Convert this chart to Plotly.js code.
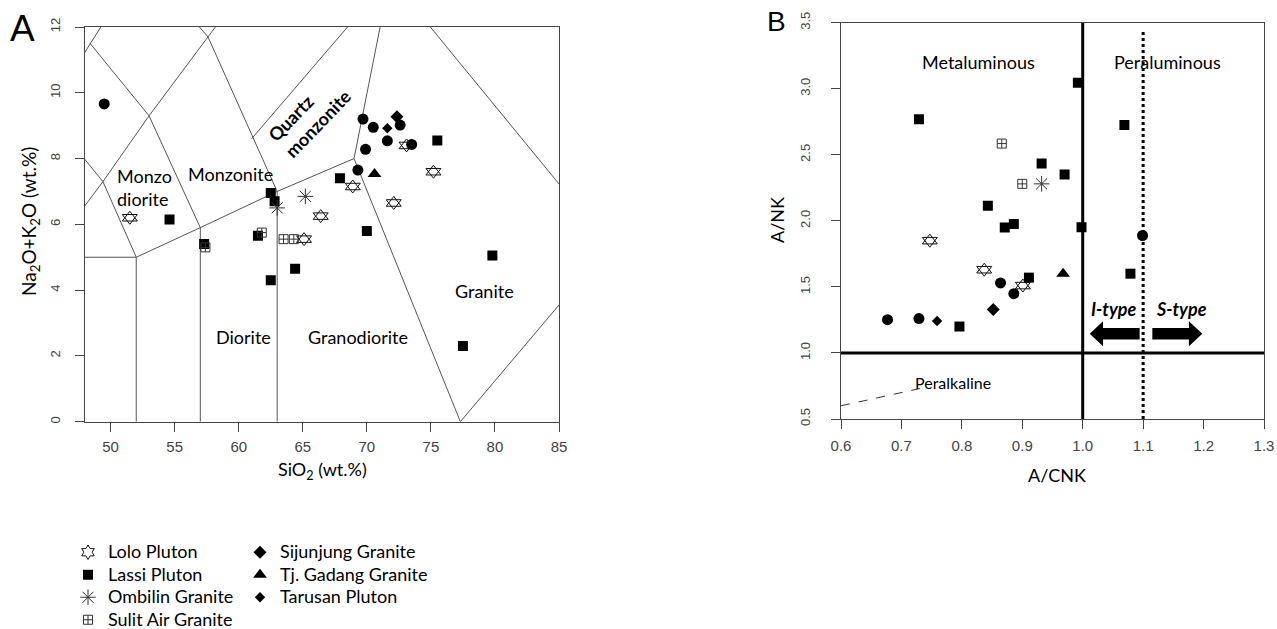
<!DOCTYPE html>
<html>
<head>
<meta charset="utf-8">
<script src="https://cdn.plot.ly/plotly-3.0.1.min.js"></script>
<style>html,body{margin:0;padding:0;background:#fff;}#chart{width:1277px;height:629px;}</style>
</head>
<body>
<div id="chart"></div>
<script>
// ---------- Panel A: TAS (SiO2 vs Na2O+K2O) ----------
const loloA_x = [51.5, 65.1, 66.4, 68.9, 72.1, 73.1, 75.2];
const loloA_y = [6.2, 5.55, 6.25, 7.15, 6.65, 8.4, 7.6];
const lassiA_x = [54.6, 57.3, 61.5, 62.5, 62.8, 62.5, 64.4, 67.9, 70.0, 75.5, 77.5, 79.8];
const lassiA_y = [6.15, 5.4, 5.65, 6.95, 6.7, 4.3, 4.65, 7.4, 5.8, 8.55, 2.3, 5.05];
const ombilinA_x = [63.0, 65.2];
const ombilinA_y = [6.5, 6.85];
const sulitA_x = [57.4, 61.8, 63.5, 64.3];
const sulitA_y = [5.3, 5.75, 5.55, 5.55];
const sijunjungA_x = [72.35];
const sijunjungA_y = [9.27];
const gadangA_x = [70.6];
const gadangA_y = [7.53];
const tarusanA_x = [71.6];
const tarusanA_y = [8.92];
const circleA_x = [49.5, 69.3, 69.7, 69.9, 70.5, 71.6, 72.6, 73.5];
const circleA_y = [9.66, 7.65, 9.2, 8.28, 8.95, 8.54, 9.02, 8.43];

// TAS field boundaries (Middlemost 1994, plutonic)
const tasLines = [
  [[45, 49.4, 53, 57.6, 59.0], [5, 7.3, 9.3, 11.7, 12.43]],
  [[45, 49.4, 52, 52], [9.4, 7.3, 5, 0]],
  [[40, 52, 57, 63, 69, 77.3], [5, 5, 5.9, 7, 8, 0]],
  [[57, 57, 53, 48.4], [0, 5.9, 9.3, 11.5]],
  [[63, 63, 57.6, 52.5], [0, 7, 11.7, 14]],
  [[45, 48.4, 52.5], [9.4, 11.5, 14]],
  [[61, 71.8], [8.6, 13.5]],
  [[69, 71.8, 85.9], [8, 13.5, 6.8]],
  [[77.3, 87.5], [0, 4.7]]
];

// ---------- Panel B: A/CNK vs A/NK ----------
const loloB_x = [0.747, 0.837, 0.901];
const loloB_y = [1.85, 1.63, 1.51];
const lassiB_x = [0.729, 0.796, 0.843, 0.871, 0.886, 0.911, 0.932, 0.970, 0.992, 0.998, 1.069, 1.079];
const lassiB_y = [2.77, 1.20, 2.115, 1.95, 1.977, 1.57, 2.435, 2.35, 3.046, 1.951, 2.726, 1.60];
const ombilinB_x = [0.932];
const ombilinB_y = [2.28];
const sulitB_x = [0.866, 0.900];
const sulitB_y = [2.585, 2.28];
const sijunjungB_x = [0.852];
const sijunjungB_y = [1.328];
const gadangB_x = [0.9675];
const gadangB_y = [1.60];
const tarusanB_x = [0.759];
const tarusanB_y = [1.242];
const circleB_x = [0.677, 0.729, 0.864, 0.886, 1.099];
const circleB_y = [1.252, 1.26, 1.53, 1.449, 1.889];

const seriesNames = ["Lolo Pluton", "Lassi Pluton", "Ombilin Granite", "Sulit Air Granite",
                     "Sijunjung Granite", "Tj. Gadang Granite", "Tarusan Pluton"];

// ---------- helpers ----------
const W = 1277, H = 629;
const px = v => v / W, py = v => 1 - v / H;
const legName = n => '<span style="font-size:18px">' + n + '</span>';

const styles = {
  "Lolo Pluton":        {symbol: "hexagram-open", size: 11, color: "#111", line: {width: 1, color: "#111"}},
  "Lassi Pluton":       {symbol: "square", size: 10, color: "#000"},
  "Ombilin Granite":    {symbol: "asterisk-open", size: 13, color: "#333", line: {width: 1, color: "#333"}},
  "Sulit Air Granite":  {symbol: "square-cross-open", size: 9, color: "#333", line: {width: 1, color: "#333"}},
  "Sijunjung Granite":  {symbol: "diamond", size: 10, color: "#000"},
  "Tj. Gadang Granite": {symbol: "triangle-up", size: 12, color: "#000"},
  "Tarusan Pluton":     {symbol: "diamond", size: 8, color: "#000"}
};
const legendOf = {
  "Lolo Pluton": "legend", "Lassi Pluton": "legend", "Ombilin Granite": "legend", "Sulit Air Granite": "legend",
  "Sijunjung Granite": "legend2", "Tj. Gadang Granite": "legend2", "Tarusan Pluton": "legend2"
};

const traces = [];
// boundary lines panel A
tasLines.forEach(l => traces.push({
  x: l[0], y: l[1], xaxis: "x", yaxis: "y", mode: "lines", type: "scatter",
  line: {color: "#555", width: 1}, showlegend: false, hoverinfo: "skip"
}));
// reference lines panel B
const bRange = [0.6, 1.3], bYRange = [0.5, 3.5];
traces.push({x: [1.0, 1.0], y: bYRange, xaxis: "x2", yaxis: "y2", mode: "lines", line: {color: "#000", width: 3}, showlegend: false, hoverinfo: "skip"});
traces.push({x: bRange, y: [1.0, 1.0], xaxis: "x2", yaxis: "y2", mode: "lines", line: {color: "#000", width: 3}, showlegend: false, hoverinfo: "skip"});
traces.push({x: [1.1, 1.1], y: [0.5, 3.45], xaxis: "x2", yaxis: "y2", mode: "lines", line: {color: "#000", width: 3, dash: "dot"}, showlegend: false, hoverinfo: "skip"});
traces.push({x: [0.6, 0.735], y: [0.6, 0.735], xaxis: "x2", yaxis: "y2", mode: "lines", line: {color: "#333", width: 1, dash: "dash"}, showlegend: false, hoverinfo: "skip"});

// unlabelled circles
traces.push({x: circleA_x, y: circleA_y, xaxis: "x", yaxis: "y", mode: "markers", type: "scatter",
  marker: {symbol: "circle", size: 11, color: "#000"}, showlegend: false, name: "circles"});
traces.push({x: circleB_x, y: circleB_y, xaxis: "x2", yaxis: "y2", mode: "markers", type: "scatter",
  marker: {symbol: "circle", size: 11, color: "#000"}, showlegend: false, name: "circles"});

const dataA = [[loloA_x, loloA_y], [lassiA_x, lassiA_y], [ombilinA_x, ombilinA_y], [sulitA_x, sulitA_y],
               [sijunjungA_x, sijunjungA_y], [gadangA_x, gadangA_y], [tarusanA_x, tarusanA_y]];
const dataB = [[loloB_x, loloB_y], [lassiB_x, lassiB_y], [ombilinB_x, ombilinB_y], [sulitB_x, sulitB_y],
               [sijunjungB_x, sijunjungB_y], [gadangB_x, gadangB_y], [tarusanB_x, tarusanB_y]];

// Lolo Pluton drawn as a Star of David (two overlapping open triangles)
const starParts = ["triangle-up-open", "triangle-down-open"];
[["x", "y", dataA[0]], ["x2", "y2", dataB[0]]].forEach(([xa, ya, d]) => {
  starParts.forEach(sym => traces.push({x: d[0], y: d[1], xaxis: xa, yaxis: ya, mode: "markers", type: "scatter",
    name: "Lolo Pluton", legendgroup: "Lolo Pluton", showlegend: false,
    marker: {symbol: sym, size: 13, color: "#111", line: {width: 1, color: "#111"}}}));
});

seriesNames.forEach((n, i) => {
  if (i === 0) {
    // legend key only for Lolo Pluton (points are drawn above)
    traces.push({x: [null], y: [null], xaxis: "x", yaxis: "y", mode: "markers", type: "scatter",
      name: legName(n), legendgroup: n, legend: legendOf[n], showlegend: true, marker: styles[n]});
    return;
  }
  traces.push({x: dataA[i][0], y: dataA[i][1], xaxis: "x", yaxis: "y", mode: "markers", type: "scatter",
    name: legName(n), legendgroup: n, legend: legendOf[n], showlegend: true, marker: styles[n]});
  traces.push({x: dataB[i][0], y: dataB[i][1], xaxis: "x2", yaxis: "y2", mode: "markers", type: "scatter",
    name: legName(n), legendgroup: n, legend: legendOf[n], showlegend: false, marker: styles[n]});
});

const tickFontX = {family: "Liberation Sans, Arial, sans-serif", size: 15, color: "#444"};
const tickFontY = {family: "Liberation Sans, Arial, sans-serif", size: 13, color: "#444"};
const lab = {family: "Lato, sans-serif", size: 18, color: "#000"};
const legFont = {family: "Lato, sans-serif", size: 15, color: "#000"};

const axisCommon = {showgrid: false, zeroline: false, showline: true, mirror: true, linecolor: "#444", linewidth: 1,
  ticks: "outside", ticklen: 9, tickcolor: "#444", tickwidth: 1, fixedrange: true, automargin: false};

const layout = {
  width: W, height: H,
  margin: {l: 0, r: 0, t: 0, b: 0, autoexpand: false},
  paper_bgcolor: "#fff", plot_bgcolor: "#fff",
  showlegend: true,
  xaxis: Object.assign({}, axisCommon, {domain: [px(85), px(559)], range: [48, 85], tick0: 50, dtick: 5,
    tickfont: tickFontX, ticklabelstandoff: 2, anchor: "y"}),
  yaxis: Object.assign({}, axisCommon, {domain: [py(421.7), py(27)], range: [0, 12], tick0: 0, dtick: 2,
    tickangle: -90, tickfont: tickFontY, ticklabelstandoff: 10, anchor: "x"}),
  xaxis2: Object.assign({}, axisCommon, {domain: [px(841), px(1264)], range: bRange, tick0: 0.6, dtick: 0.1,
    tickformat: ".1f", tickfont: tickFontX, ticklabelstandoff: 4, anchor: "y2"}),
  yaxis2: Object.assign({}, axisCommon, {domain: [py(419), py(22.7)], range: bYRange, tick0: 0.5, dtick: 0.5,
    tickformat: ".1f", tickangle: -90, tickfont: tickFontY, ticklabelstandoff: 16, anchor: "x2"}),
  legend: {x: px(68), xanchor: "left", y: py(536), yanchor: "top", bgcolor: "rgba(0,0,0,0)",
    font: legFont, tracegroupgap: 0, itemsizing: "trace", itemclick: false, itemdoubleclick: false},
  legend2: {x: px(240), xanchor: "left", y: py(536), yanchor: "top", bgcolor: "rgba(0,0,0,0)",
    font: legFont, tracegroupgap: 0, itemsizing: "trace", itemclick: false, itemdoubleclick: false},
  shapes: [
    {type: "path", xref: "x2", yref: "y2", fillcolor: "#000", line: {width: 0},
     path: "M 1.0116,1.1453 L 1.0336,1.2396 L 1.0336,1.1891 L 1.0942,1.1891 L 1.0942,1.1015 L 1.0336,1.1015 L 1.0336,1.051 Z"},
    {type: "path", xref: "x2", yref: "y2", fillcolor: "#000", line: {width: 0},
     path: "M 1.1979,1.1453 L 1.1757,1.2396 L 1.1757,1.1891 L 1.1152,1.1891 L 1.1152,1.1015 L 1.1757,1.1015 L 1.1757,1.051 Z"}
  ],
  annotations: [
    // panel labels
    {text: "A", xref: "paper", yref: "paper", x: px(22.5), y: py(28.5), showarrow: false, xanchor: "center", yanchor: "middle",
     font: {family: "Liberation Sans, Arial, sans-serif", size: 37, color: "#000"}},
    {text: "B", xref: "paper", yref: "paper", x: px(776), y: py(22), showarrow: false, xanchor: "center", yanchor: "middle",
     font: {family: "Liberation Sans, Arial, sans-serif", size: 28, color: "#000"}},
    // axis titles
    {text: "SiO<sub>2</sub> (wt.%)", xref: "paper", yref: "paper", x: px(322), y: py(470), showarrow: false, xanchor: "center", yanchor: "middle", font: lab},
    {text: "Na<sub>2</sub>O+K<sub>2</sub>O (wt.%)", xref: "paper", yref: "paper", x: px(30), y: py(222), showarrow: false, xanchor: "center", yanchor: "middle", textangle: -90, font: {family: "Lato, sans-serif", size: 19, color: "#000"}},
    {text: "A/CNK", xref: "paper", yref: "paper", x: px(1057), y: py(475), showarrow: false, xanchor: "center", yanchor: "middle", font: lab},
    {text: "A/NK", xref: "paper", yref: "paper", x: px(777), y: py(220), showarrow: false, xanchor: "center", yanchor: "middle", textangle: -90, font: lab},
    // panel A field names
    {text: "Monzo<br>diorite", xref: "x", yref: "y", x: 50.34, y: 7.13, showarrow: false, xanchor: "left", yanchor: "middle", align: "left", font: lab},
    {text: "Monzonite", xref: "x", yref: "y", x: 59.33, y: 7.52, showarrow: false, xanchor: "center", yanchor: "middle", font: lab},
    {text: "<b>Quartz<br>monzonite</b>", xref: "x", yref: "y", x: 65.5, y: 9.3, showarrow: false, xanchor: "center", yanchor: "middle", align: "left", textangle: -46, font: lab},
    {text: "Diorite", xref: "x", yref: "y", x: 60.34, y: 2.57, showarrow: false, xanchor: "center", yanchor: "middle", font: lab},
    {text: "Granodiorite", xref: "x", yref: "y", x: 69.33, y: 2.57, showarrow: false, xanchor: "center", yanchor: "middle", font: lab},
    {text: "Granite", xref: "x", yref: "y", x: 79.17, y: 3.97, showarrow: false, xanchor: "center", yanchor: "middle", font: lab},
    // panel B field names
    {text: "Metaluminous", xref: "x2", yref: "y2", x: 0.828, y: 3.20, showarrow: false, xanchor: "center", yanchor: "middle", font: lab},
    {text: "Peraluminous", xref: "x2", yref: "y2", x: 1.1397, y: 3.20, showarrow: false, xanchor: "center", yanchor: "middle", font: lab},
    {text: "Peralkaline", xref: "x2", yref: "y2", x: 0.785, y: 0.779, showarrow: false, xanchor: "center", yanchor: "middle", font: {family: "Lato, sans-serif", size: 16, color: "#000"}},
    {text: "<b><i>I-type</i></b>", xref: "x2", yref: "y2", x: 1.051, y: 1.33, showarrow: false, xanchor: "center", yanchor: "middle", font: lab},
    {text: "<b><i>S-type</i></b>", xref: "x2", yref: "y2", x: 1.164, y: 1.33, showarrow: false, xanchor: "center", yanchor: "middle", font: lab}
  ]
};

Plotly.newPlot("chart", traces, layout, {displayModeBar: false, staticPlot: true});
</script>
</body>
</html>
